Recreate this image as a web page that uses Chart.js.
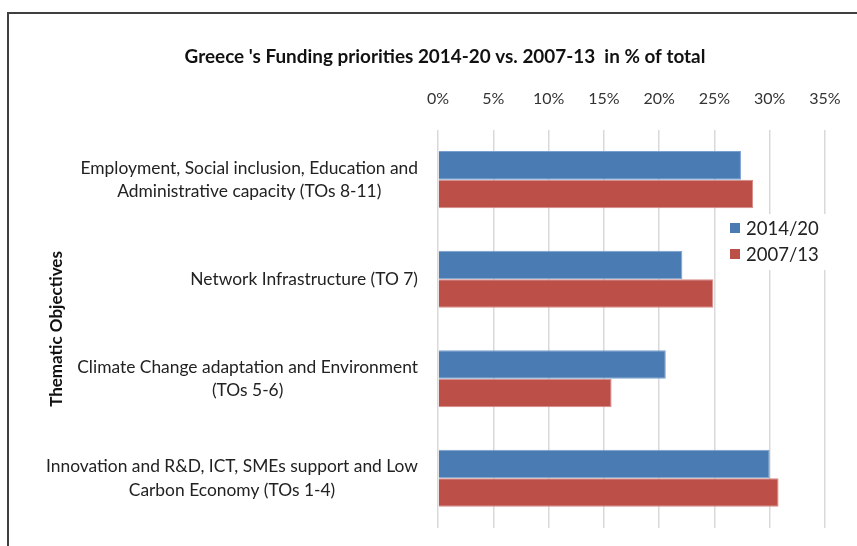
<!DOCTYPE html>
<html>
<head>
<meta charset="utf-8">
<script src="https://cdn.jsdelivr.net/npm/chart.js@4"></script>
<style>
  html, body { margin: 0; padding: 0; background: #fff; }
  #wrap { position: relative; width: 857px; height: 546px; }
  #frame { position: absolute; left: 7px; top: 12px; right: 0; bottom: 0;
           border-top: 2px solid #3f3f3f; border-left: 2px solid #3f3f3f; }
  canvas { position: absolute; left: 0; top: 0; }
</style>
</head>
<body>
<div id="wrap">
  <div id="frame"></div>
  <canvas id="fundingChart" width="857" height="546"></canvas>
</div>
<script>
// categories (top to bottom)
var categories = [
  ['Employment, Social inclusion, Education and', 'Administrative capacity (TOs 8-11)'],
  ['Network Infrastructure (TO 7)'],
  ['Climate Change adaptation and Environment', '(TOs 5-6)'],
  ['Innovation and R&D, ICT, SMEs support and Low', 'Carbon Economy (TOs 1-4)']
];
var seriesNames = ['2014/20', '2007/13'];
// % of total
var values2014 = [27.4, 22.1, 20.6, 30.0];
var values2007 = [28.5, 24.9, 15.7, 30.8];
var xTicks = [0, 5, 10, 15, 20, 25, 30, 35];

var FONT = 'Lato, "Open Sans", sans-serif';

// category labels: block right-aligned to the axis, lines centred inside the block
var catLabels = {
  id: 'catLabels',
  afterDraw: function(chart) {
    var ctx = chart.ctx;
    var yScale = chart.scales.y;
    var right = chart.chartArea.left - 20;
    var lineH = 23.6;
    ctx.save();
    ctx.font = '17.4px ' + FONT;
    ctx.fillStyle = '#222';
    ctx.textAlign = 'center';
    ctx.textBaseline = 'middle';
    chart.data.labels.forEach(function(lines, i) {
      var w = 0;
      lines.forEach(function(t) { w = Math.max(w, ctx.measureText(t).width); });
      var cx = right - w / 2;
      var cy = yScale.getPixelForTick(i);
      var y0 = cy - (lines.length - 1) * lineH / 2;
      lines.forEach(function(t, k) { ctx.fillText(t, cx, y0 + k * lineH); });
    });
    ctx.restore();
  }
};

// legend drawn over the plot, with white box behind it
var boxLegend = {
  id: 'boxLegend',
  afterDatasetsDraw: function(chart) {
    var ctx = chart.ctx;
    var x = 728, y = 214;
    ctx.save();
    ctx.fillStyle = '#fff';
    ctx.fillRect(x - 4, y, 102, 56);
    ctx.font = '18.5px ' + FONT;
    ctx.textBaseline = 'middle';
    chart.data.datasets.forEach(function(ds, i) {
      var cy = y + 14 + i * 26;
      ctx.fillStyle = ds.backgroundColor;
      ctx.fillRect(x + 2, cy - 5, 10, 10);
      ctx.fillStyle = '#222';
      ctx.fillText(ds.label, x + 18, cy + 1);
    });
    ctx.restore();
  }
};

var context = document.getElementById('fundingChart').getContext('2d');
var fundingChart = new Chart(context, {
  type: 'bar',
  data: {
    labels: categories,
    datasets: [
      {
        label: seriesNames[0],
        data: values2014,
        backgroundColor: '#4a7cb3',
        borderColor: '#7aa0cf',
        borderWidth: 1
      },
      {
        label: seriesNames[1],
        data: values2007,
        backgroundColor: '#bd4f49',
        borderColor: '#d88a85',
        borderWidth: 1
      }
    ]
  },
  options: {
    indexAxis: 'y',
    responsive: false,
    animation: false,
    layout: { padding: { top: 46, left: 65, right: 32, bottom: 18 } },
    datasets: {
      bar: { categoryPercentage: 0.575, barPercentage: 1.0 }
    },
    plugins: {
      legend: { display: false },
      tooltip: { enabled: false },
      title: {
        display: true,
        text: "Greece 's Funding priorities 2014-20 vs. 2007-13  in % of total",
        color: '#111',
        font: { family: FONT, size: 18.9, weight: 'bold', lineHeight: 1.2 },
        padding: { top: 0, bottom: 0 }
      }
    },
    scales: {
      x: {
        position: 'top',
        min: 0,
        max: 35,
        afterBuildTicks: function(scale) {
          scale.ticks = xTicks.map(function(v) { return { value: v }; });
        },
        afterFit: function(scale) {
          scale.height = 61.3;
          scale.paddingLeft = 0;
          scale.paddingRight = 0;
        },
        border: { display: false },
        grid: { color: '#d9d9d9', lineWidth: 1.5, drawTicks: false },
        ticks: {
          padding: 22,
          color: '#333',
          font: { family: FONT, size: 16 },
          callback: function(v) { return v + '%'; }
        }
      },
      y: {
        afterFit: function(scale) {
          scale.width = 373;
          scale.paddingTop = 0;
          scale.paddingBottom = 0;
        },
        border: { display: false },
        grid: { display: false },
        ticks: { display: false },
        title: {
          display: true,
          text: 'Thematic Objectives',
          color: '#111',
          font: { family: FONT, size: 17, weight: 'bold' },
          padding: { top: -19, bottom: 0 }
        }
      }
    }
  },
  plugins: [catLabels, boxLegend]
});
</script>
</body>
</html>
